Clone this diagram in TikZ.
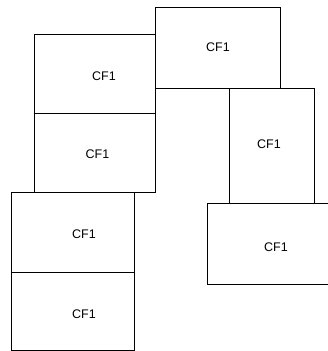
\documentclass[tikz,border=0pt]{standalone}
\usepackage{fontspec}
\setmainfont{Liberation Sans}
\usetikzlibrary{positioning, calc}

\begin{document}
\begin{tikzpicture}[
    x=1pt, y=-1pt, % pixel-like coordinates, y going down
    node distance=0pt,
    cfbox/.style={draw, line width=0.9pt, outer sep=0pt, inner sep=0pt},
    cflabel/.style={font=\fontsize{12.5}{14}\selectfont, inner sep=0pt}
]
    \clip (0,0) rectangle (328,351);

    % Place the boxes
    \node (a) [cfbox, minimum width=121pt, minimum height=79pt] at (94.5,73.5) {};
    \node (b) [cfbox, minimum width=121pt, minimum height=79pt, below=of a] {};
    \node (c) [cfbox, minimum width=125pt, minimum height=81pt] at (217.5,47.5) {};
    \node (d) [cfbox, minimum width=85pt, minimum height=115pt] at (271.5,145.5) {};
    \node (e) [cfbox, minimum width=138pt, minimum height=81pt, below=of d.south east, anchor=north west, xshift=-107pt] {};
    \node (f) [cfbox, minimum width=123pt, minimum height=80pt] at (72.5,232) {};
    \node (g) [cfbox, minimum width=123pt, minimum height=78pt, below=of f] {};

    % Place the labels
    \node (la) [cflabel] at ($(a.center)+(9.5,2.5)$) {CF1};
    \node (lb) [cflabel] at ($(b.center)+(3,1.5)$) {CF1};
    \node (lc) [cflabel] at ($(c.center)+(0.5,-0.5)$) {CF1};
    \node (ld) [cflabel] at ($(d.center)+(-2.5,-1.5)$) {CF1};
    \node (le) [cflabel] at ($(e.center)+(0,4)$) {CF1};
    \node (lf) [cflabel] at ($(f.center)+(11.5,2)$) {CF1};
    \node (lg) [cflabel] at ($(g.center)+(11.5,3)$) {CF1};
\end{tikzpicture}
\end{document}
